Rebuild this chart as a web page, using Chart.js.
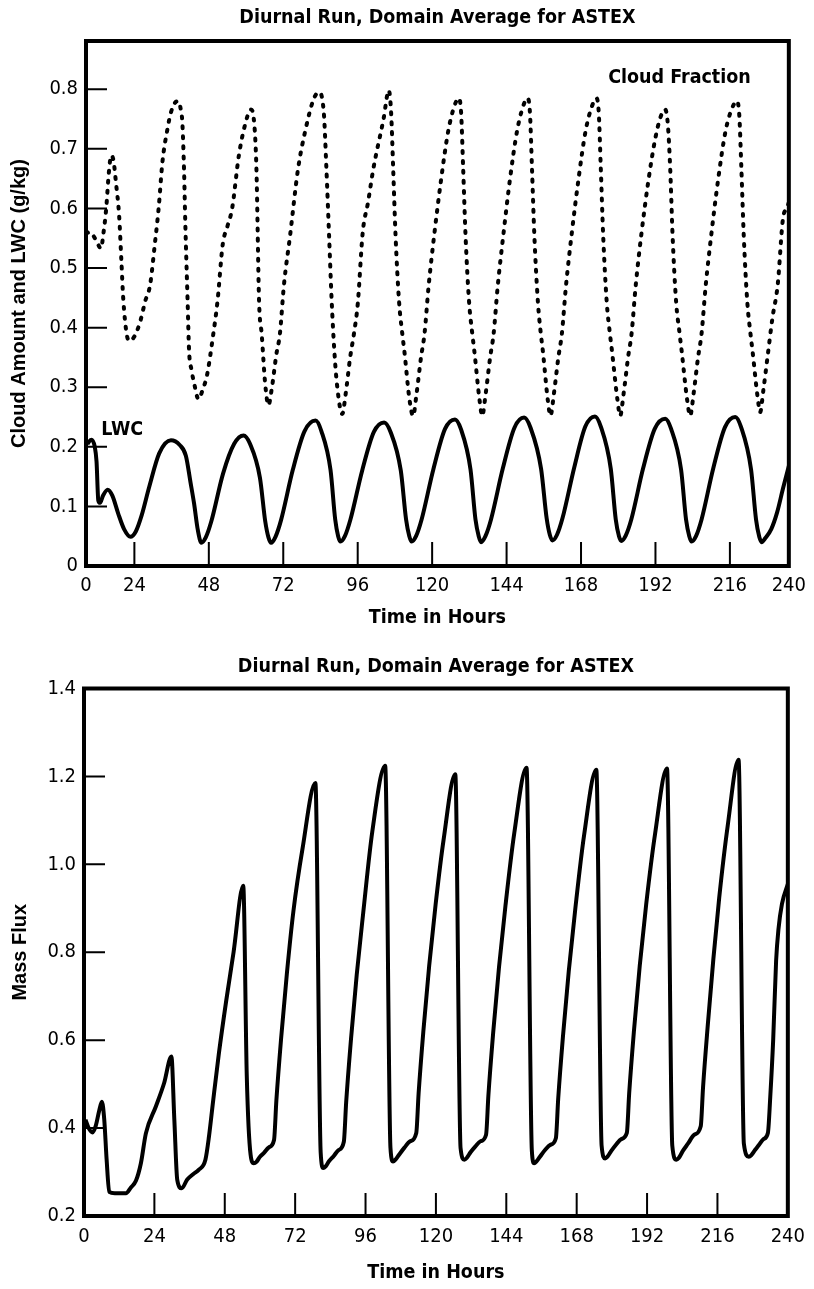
<!DOCTYPE html>
<html>
<head>
<meta charset="utf-8">
<script src="https://cdn.jsdelivr.net/npm/chart.js@4/dist/chart.umd.min.js"></script>
<style>
  html, body { margin: 0; padding: 0; background: #fff; }
  #w1 { position: absolute; left: 0; top: 0; width: 814px; height: 640px; }
  #w2 { position: absolute; left: 0; top: 640px; width: 814px; height: 649px; }
</style>
</head>
<body>
<div id="w1"><canvas id="c1" width="814" height="640"></canvas></div>
<div id="w2"><canvas id="c2" width="814" height="649"></canvas></div>
<script>
// ---------------- DATA ----------------
const chartTitle = 'Diurnal Run, Domain Average for ASTEX';

// Top chart: LWC (solid)
const lwcHours = [0.5,1.8,3.0,3.6,4.2,4.8,5.8,7.4,9.0,11.0,13.0,15.2,
  17.0,19.0,21.6,25.0,29.0,32.0,34.1,35.7,36.9,38.2,39.4,
  40.9,42.8,46.8,50.6,53.8,56.0,59.4,61.2,62.3,63.2,
  64.7,66.6,70.6,74.6,78.4,80.4,83.5,85.1,86.1,86.9,
  88.4,90.3,94.3,98.3,101.8,104.0,107.5,109.3,110.4,111.2,
  112.7,114.6,118.6,122.6,126.0,128.0,131.3,133.0,134.1,134.9,
  136.4,138.3,142.3,146.3,149.6,151.8,155.4,157.3,158.4,159.3,
  160.8,162.7,166.7,170.5,173.8,175.8,179.2,180.9,182.0,182.8,
  184.3,186.2,190.2,194.2,197.8,199.8,203.2,204.9,206.0,206.8,
  208.3,210.2,214.2,218.2,221.7,223.7,227.1,228.8,229.9,230.7,
  232.0,234.0,236.0,238.0,240.0];
const lwcValues = [0.205,0.212,0.200,0.175,0.110,0.106,0.118,0.128,0.118,0.088,0.062,0.049,
  0.058,0.085,0.133,0.189,0.211,0.203,0.185,0.140,0.105,0.060,0.039,
  0.048,0.075,0.155,0.205,0.219,0.205,0.148,0.075,0.048,0.039,
  0.049,0.077,0.161,0.226,0.244,0.226,0.161,0.078,0.050,0.041,
  0.050,0.078,0.160,0.225,0.241,0.225,0.160,0.078,0.050,0.041,
  0.050,0.078,0.162,0.230,0.246,0.230,0.162,0.078,0.050,0.040,
  0.050,0.078,0.163,0.232,0.249,0.232,0.163,0.080,0.052,0.043,
  0.052,0.080,0.165,0.234,0.251,0.234,0.163,0.078,0.050,0.042,
  0.051,0.078,0.163,0.230,0.247,0.230,0.162,0.078,0.050,0.041,
  0.050,0.078,0.164,0.233,0.250,0.233,0.162,0.078,0.049,0.040,
  0.047,0.062,0.090,0.130,0.168];

// Top chart: Cloud Fraction (dotted)
const cloudHours = [0.0,1.2,2.4,3.6,5.1,6.0,6.9,7.8,8.6,9.4,10.3,11.3,12.1,12.7,13.9,14.8,
  16.5,18.5,20.2,21.9,23.5,24.8,26.1,27.8,29.0,30.5,31.5,32.4,32.9,33.5,33.9,34.7,35.2,36.0,37.0,38.4,
  39.8,41.4,43.2,44.9,46.7,48.3,49.9,52.2,54.5,56.3,57.3,58.2,59.1,60.0,61.2,62.3,
  63.5,65.0,66.2,67.6,69.7,72.4,75.0,77.7,79.5,81.2,82.1,83.0,83.9,84.8,85.7,87.5,
  88.7,90.2,91.5,92.8,94.5,96.3,98.1,101.6,103.4,104.2,104.9,105.7,106.9,108.0,108.7,110.5,111.7,
  112.9,114.4,115.6,117.0,118.9,121.3,123.7,125.8,127.3,128.1,128.8,129.6,130.8,131.9,132.6,134.4,135.3,
  136.5,138.0,139.2,140.6,142.5,144.8,147.2,149.3,150.8,151.6,152.3,153.1,154.3,155.3,156.0,157.7,158.6,
  159.8,161.3,162.5,163.9,165.8,168.2,170.6,172.8,174.3,175.1,175.8,176.6,177.8,178.9,179.6,181.5,182.4,
  183.6,185.1,186.3,187.7,189.6,192.0,194.3,196.3,197.8,198.7,199.5,200.3,201.5,202.7,203.4,205.3,206.3,
  207.5,209.0,210.2,211.6,213.5,215.9,218.4,220.6,222.3,223.1,223.8,224.6,225.8,226.9,227.6,229.3,230.2,
  231.3,232.7,234.4,236.2,238.0,239.3,240.0];
const cloudValues = [0.558,0.560,0.555,0.545,0.533,0.560,0.600,0.660,0.689,0.680,0.640,0.589,0.510,0.450,0.389,0.378,
  0.385,0.410,0.444,0.472,0.540,0.600,0.678,0.733,0.761,0.778,0.780,0.765,0.744,0.661,0.577,0.444,0.361,0.330,0.305,0.280,
  0.295,0.322,0.380,0.444,0.540,0.570,0.600,0.689,0.744,0.766,0.750,0.666,0.444,0.389,0.305,0.270,
  0.300,0.355,0.389,0.472,0.555,0.666,0.733,0.783,0.795,0.761,0.666,0.555,0.444,0.361,0.305,0.255,
  0.290,0.350,0.390,0.440,0.560,0.610,0.666,0.750,0.798,0.760,0.666,0.555,0.444,0.390,0.361,0.278,0.252,
  0.290,0.350,0.390,0.470,0.555,0.650,0.730,0.772,0.785,0.760,0.666,0.555,0.444,0.390,0.361,0.278,0.252,
  0.290,0.350,0.390,0.470,0.555,0.650,0.730,0.772,0.785,0.760,0.666,0.555,0.444,0.390,0.361,0.278,0.252,
  0.290,0.350,0.390,0.470,0.555,0.650,0.730,0.772,0.785,0.760,0.666,0.555,0.444,0.390,0.361,0.278,0.252,
  0.290,0.350,0.390,0.470,0.555,0.645,0.715,0.755,0.766,0.740,0.666,0.555,0.444,0.390,0.361,0.278,0.252,
  0.290,0.350,0.390,0.470,0.555,0.650,0.730,0.768,0.780,0.755,0.666,0.555,0.444,0.390,0.361,0.285,0.258,
  0.295,0.350,0.416,0.472,0.583,0.600,0.610];

// Bottom chart: Mass Flux
const massHours = [0.5,1.6,2.9,4.0,5.2,6.1,6.9,7.7,8.6,10.5,14.3,16.0,17.7,19.4,21.1,24.5,27.3,29.8,30.8,31.8,33.3,35.2,37.2,39.1,41.4,42.6,44.0,46.0,48.5,51.0,54.3,
  55.5,56.8,57.9,58.8,60.0,61.3,63.0,64.8,65.6,67.2,69.2,71.4,74.5,78.9,
  80.7,81.6,82.4,83.6,85.1,86.8,88.6,89.4,91.0,93.0,95.2,98.3,102.7,
  104.5,105.4,106.2,107.5,109.2,111.2,113.3,114.1,115.7,117.7,119.9,122.6,126.6,
  128.4,129.7,130.5,131.8,133.4,135.2,137.1,137.9,139.5,141.5,143.7,146.7,150.9,
  152.7,153.5,154.3,155.6,157.2,159.0,160.9,161.7,163.3,165.3,167.5,170.5,174.7,
  176.5,177.7,178.5,179.8,181.4,183.2,185.1,185.9,187.5,189.5,191.7,194.7,198.8,
  200.6,202.0,202.8,204.2,206.0,208.1,210.3,211.1,212.7,214.6,216.6,219.5,223.2,
  225.0,226.7,227.5,228.8,230.2,231.7,233.2,234.0,235.0,236.0,236.8,238.0,240.0];
const massValues = [0.419,0.400,0.390,0.405,0.440,0.460,0.420,0.330,0.255,0.252,0.252,0.265,0.280,0.320,0.388,0.449,0.502,0.563,0.420,0.282,0.263,0.283,0.295,0.305,0.328,0.380,0.460,0.570,0.690,0.800,0.951,
  0.520,0.340,0.320,0.323,0.335,0.343,0.356,0.373,0.463,0.603,0.753,0.893,1.035,1.185,
  0.345,0.309,0.313,0.325,0.336,0.350,0.369,0.459,0.599,0.749,0.889,1.074,1.224,
  0.355,0.324,0.328,0.340,0.355,0.370,0.389,0.479,0.619,0.769,0.909,1.055,1.205,
  0.355,0.328,0.332,0.345,0.358,0.370,0.385,0.475,0.615,0.765,0.905,1.070,1.220,
  0.350,0.320,0.324,0.336,0.350,0.362,0.377,0.467,0.607,0.757,0.897,1.065,1.215,
  0.360,0.331,0.335,0.348,0.362,0.375,0.389,0.479,0.619,0.769,0.909,1.068,1.218,
  0.360,0.328,0.332,0.348,0.365,0.385,0.404,0.494,0.634,0.784,0.924,1.088,1.238,
  0.365,0.335,0.338,0.350,0.362,0.375,0.389,0.470,0.600,0.780,0.852,0.910,0.955];

// Axes / ticks
const topYTickValues = [0,0.1,0.2,0.3,0.4,0.5,0.6,0.7,0.8];
const topYTickLabels = ['0','0.1','0.2','0.3','0.4','0.5','0.6','0.7','0.8'];
const topYMax = 0.881;
// the printed time axis of the upper panel (its marks are offset from the data grid)
const topXAxisStart = 8.4, topXAxisEnd = 235.0;
const topXTickValues = [8.4,24,48,72,96,120,144,168,192,216,235.0];
const topXTickLabels = ['0','24','48','72','96','120','144','168','192','216','240'];
const topXMarks = [24,48,72,96,120,144,168,192,216];
const topYMarks = [0.1,0.2,0.3,0.4,0.5,0.6,0.7,0.8];

const botYTickValues = [0.2,0.4,0.6,0.8,1.0,1.2,1.4];
const botYTickLabels = ['0.2','0.4','0.6','0.8','1.0','1.2','1.4'];
const botXTickValues = [0,24,48,72,96,120,144,168,192,216,240];
const botXTickLabels = ['0','24','48','72','96','120','144','168','192','216','240'];
const botXMarks = [24,48,72,96,120,144,168,192,216];
const botYMarks = [0.4,0.6,0.8,1.0,1.2];

// ---------------- STYLE ----------------
const NARROW = "'DejaVu Sans Condensed', 'Liberation Sans Narrow', sans-serif";
const BOLD = "'Liberation Sans', Arial, sans-serif";
const TICK_SIZE = 20;
const HEAD_SIZE = 19.5;
Chart.defaults.color = '#000';
Chart.defaults.animation = false;

const framePlugin = {
  id: 'frame',
  afterDatasetsDraw(chart, args, o) {
    const {ctx, chartArea: a} = chart;
    const xs = chart.scales[o.xScale], ys = chart.scales.y;
    ctx.save();
    ctx.strokeStyle = '#000';
    ctx.lineWidth = 2;
    ctx.beginPath();
    o.xMarks.forEach(v => { const px = xs.getPixelForValue(v); ctx.moveTo(px, a.bottom); ctx.lineTo(px, a.bottom - o.xLen); });
    o.yMarks.forEach(v => { const py = ys.getPixelForValue(v); ctx.moveTo(a.left, py); ctx.lineTo(a.left + o.yLen, py); });
    ctx.stroke();
    ctx.lineWidth = o.width;
    ctx.strokeRect(a.left, a.top, a.right - a.left, a.bottom - a.top);
    (o.labels || []).forEach(l => {
      ctx.font = 'bold ' + HEAD_SIZE + 'px ' + NARROW;
      ctx.fillStyle = '#000';
      ctx.textAlign = 'left';
      ctx.textBaseline = 'middle';
      ctx.fillText(l.text, chart.scales.x.getPixelForValue(l.x), ys.getPixelForValue(l.y));
    });
    ctx.restore();
  }
};

const pts = (xs, ys) => xs.map((h, i) => ({x: h, y: ys[i]}));

// ---------------- CHART 1 ----------------
new Chart(document.getElementById('c1'), {
  type: 'line',
  data: {
    datasets: [
      { label: 'LWC', data: pts(lwcHours, lwcValues), xAxisID: 'x', yAxisID: 'y',
        borderColor: '#000', borderWidth: 4, pointRadius: 0, cubicInterpolationMode: 'monotone', fill: false },
      { label: 'Cloud Fraction', data: pts(cloudHours, cloudValues), xAxisID: 'x', yAxisID: 'y',
        borderColor: '#000', borderWidth: 4, borderDash: [2, 8], borderCapStyle: 'round',
        pointRadius: 0, cubicInterpolationMode: 'monotone', fill: false }
    ]
  },
  options: {
    responsive: false,
    layout: { padding: { left: 0, right: 22, top: 0, bottom: 0 } },
    plugins: {
      legend: { display: false },
      tooltip: { enabled: false },
      title: { display: true, text: chartTitle, fullSize: false, color: '#000',
        font: { family: NARROW, size: HEAD_SIZE, weight: 'bold' }, padding: { top: 5.8, bottom: 11.8 } },
      frame: { xScale: 'xt', xMarks: topXMarks, yMarks: topYMarks, xLen: 24, yLen: 21, width: 4,
        labels: [ { text: 'Cloud Fraction', x: 178.3, y: 0.819 }, { text: 'LWC', x: 5.2, y: 0.2275 } ] }
    },
    scales: {
      x: { type: 'linear', min: 0, max: 240, display: false },
      xt: {
        type: 'linear', position: 'bottom', min: topXAxisStart, max: topXAxisEnd,
        afterBuildTicks: s => { s.ticks = topXTickValues.map(v => ({ value: v })); },
        afterFit: s => { s.height = 74; },
        grid: { display: false, drawTicks: false }, border: { display: false },
        ticks: { autoSkip: false, maxRotation: 0, padding: 8, color: '#000',
          font: { family: NARROW, size: TICK_SIZE }, callback: (v, i) => topXTickLabels[i] },
        title: { display: true, text: 'Time in Hours', color: '#000',
          font: { family: NARROW, size: HEAD_SIZE, weight: 'bold' }, padding: { top: 0, bottom: 10.5 } }
      },
      y: {
        type: 'linear', position: 'left', min: 0, max: topYMax,
        afterBuildTicks: s => { s.ticks = topYTickValues.map(v => ({ value: v })); },
        afterFit: s => { s.width = 86; },
        grid: { display: false, drawTicks: false }, border: { display: false },
        ticks: { padding: 8, color: '#000', font: { family: NARROW, size: TICK_SIZE },
          callback: (v, i) => topYTickLabels[i] },
        title: { display: true, text: 'Cloud Amount and LWC (g/kg)', color: '#000',
          font: { family: BOLD, size: 20, weight: 'bold' }, padding: { top: 7, bottom: 0 } }
      }
    }
  },
  plugins: [framePlugin]
});

// ---------------- CHART 2 ----------------
new Chart(document.getElementById('c2'), {
  type: 'line',
  data: {
    datasets: [
      { label: 'Mass Flux', data: pts(massHours, massValues), xAxisID: 'x', yAxisID: 'y',
        borderColor: '#000', borderWidth: 4, pointRadius: 0, cubicInterpolationMode: 'monotone', fill: false }
    ]
  },
  options: {
    responsive: false,
    layout: { padding: { left: 0, right: 21, top: 0, bottom: 0 } },
    plugins: {
      legend: { display: false },
      tooltip: { enabled: false },
      title: { display: true, text: chartTitle, fullSize: false, color: '#000',
        font: { family: NARROW, size: HEAD_SIZE, weight: 'bold' }, padding: { top: 15.1, bottom: 10 } },
      frame: { xScale: 'x', xMarks: botXMarks, yMarks: botYMarks, xLen: 23, yLen: 21, width: 4, labels: [] }
    },
    scales: {
      x: {
        type: 'linear', position: 'bottom', min: 0, max: 240,
        afterBuildTicks: s => { s.ticks = botXTickValues.map(v => ({ value: v })); },
        afterFit: s => { s.height = 73; },
        grid: { display: false, drawTicks: false }, border: { display: false },
        ticks: { autoSkip: false, maxRotation: 0, padding: 9, color: '#000',
          font: { family: NARROW, size: TICK_SIZE }, callback: (v, i) => botXTickLabels[i] },
        title: { display: true, text: 'Time in Hours', color: '#000',
          font: { family: NARROW, size: HEAD_SIZE, weight: 'bold' }, padding: { top: 0, bottom: 4.5 } }
      },
      y: {
        type: 'linear', position: 'left', min: 0.2, max: 1.4,
        afterBuildTicks: s => { s.ticks = botYTickValues.map(v => ({ value: v })); },
        afterFit: s => { s.width = 84; },
        grid: { display: false, drawTicks: false }, border: { display: false },
        ticks: { padding: 8, color: '#000', font: { family: NARROW, size: TICK_SIZE },
          callback: (v, i) => botYTickLabels[i] },
        title: { display: true, text: 'Mass Flux', color: '#000',
          font: { family: BOLD, size: 20, weight: 'bold' }, padding: { top: 8.8, bottom: 0 } }
      }
    }
  },
  plugins: [framePlugin]
});
</script>
</body>
</html>
